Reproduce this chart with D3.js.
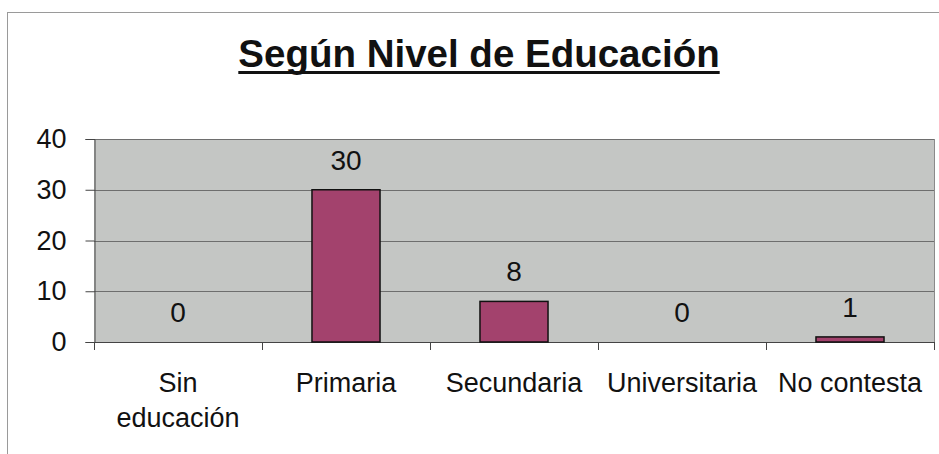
<!DOCTYPE html>
<html>
<head>
<meta charset="utf-8">
<script src="https://cdn.jsdelivr.net/npm/d3@7"></script>
<style>
  body { margin: 0; background: #fff; }
  svg { display: block; font-family: Arial, "Liberation Sans", sans-serif; }
</style>
</head>
<body>
<div id="chart"></div>
<script>
const width = 939
const height = 454

// data
const title = 'Según Nivel de Educación'
const categories = ['Sin educación', 'Primaria', 'Secundaria', 'Universitaria', 'No contesta']
const values = [0, 30, 8, 0, 1]
const yTicks = [0, 10, 20, 30, 40]

const plot = { left: 94, right: 934, top: 139, bottom: 342 }

const svg = d3.select('#chart').append('svg')
  .attr('width', width)
  .attr('height', height)

// outer frame
svg.append('rect')
  .attr('x', 7.5).attr('y', 12.5)
  .attr('width', width).attr('height', height)
  .attr('fill', 'none')
  .attr('stroke', '#9a9a9a')
  .attr('stroke-width', 1)

// title
const t = svg.append('text')
  .attr('x', 479).attr('y', 67)
  .attr('text-anchor', 'middle')
  .attr('font-size', 38.5)
  .attr('font-weight', 'bold')
  .attr('fill', '#111')
  .text(title)
const tw = t.node().getComputedTextLength()
svg.append('rect')
  .attr('x', 479 - tw / 2).attr('y', 71)
  .attr('width', tw).attr('height', 3)
  .attr('fill', '#111')

// scales
const x = d3.scaleBand().domain(categories).range([plot.left, plot.right]).padding(0)
const y = d3.scaleLinear().domain([0, 40]).range([plot.bottom, plot.top])

// plot background
svg.append('rect')
  .attr('x', plot.left).attr('y', plot.top)
  .attr('width', plot.right - plot.left).attr('height', plot.bottom - plot.top)
  .attr('fill', '#c4c6c4')

// gridlines
svg.append('g').selectAll('line').data(yTicks.filter(d => d > 0)).join('line')
  .attr('x1', plot.left).attr('x2', plot.right)
  .attr('y1', d => Math.round(y(d)) + 0.5).attr('y2', d => Math.round(y(d)) + 0.5)
  .attr('stroke', '#6e6e6e')
  .attr('stroke-width', 1)

// right border
svg.append('line')
  .attr('x1', plot.right + 0.5).attr('x2', plot.right + 0.5)
  .attr('y1', plot.top).attr('y2', plot.bottom)
  .attr('stroke', '#8a8a8a')

// y axis
const yAxis = svg.append('g')
  .attr('transform', `translate(${plot.left + 0.5},0)`)
  .call(d3.axisLeft(y).tickValues(yTicks).tickSize(9).tickPadding(19).tickFormat(d3.format('d')))
yAxis.select('.domain').attr('stroke', '#444')
yAxis.selectAll('.tick line').attr('stroke', '#444')
yAxis.selectAll('.tick text')
  .attr('font-size', 27)
  .attr('font-family', 'Arial, "Liberation Sans", sans-serif')
  .attr('fill', '#111')

// x axis line and tick marks at category boundaries
const bounds = categories.map(c => x(c)).concat([plot.right])
svg.append('line')
  .attr('x1', plot.left).attr('x2', plot.right)
  .attr('y1', plot.bottom + 0.5).attr('y2', plot.bottom + 0.5)
  .attr('stroke', '#444')
svg.append('g').selectAll('line').data(bounds).join('line')
  .attr('x1', d => Math.round(d) + 0.5).attr('x2', d => Math.round(d) + 0.5)
  .attr('y1', plot.bottom).attr('y2', plot.bottom + 8)
  .attr('stroke', '#444')

// bars
const barW = x.bandwidth() * 0.405
svg.append('g').selectAll('rect').data(values).join('rect')
  .attr('x', (d, i) => x(categories[i]) + x.bandwidth() / 2 - barW / 2)
  .attr('y', d => y(d))
  .attr('width', barW)
  .attr('height', d => y(0) - y(d))
  .attr('fill', '#a3426d')
  .attr('stroke', '#111')
  .attr('stroke-width', d => d > 0 ? 1.5 : 0)

// value labels
svg.append('g').selectAll('text').data(values).join('text')
  .attr('x', (d, i) => x(categories[i]) + x.bandwidth() / 2)
  .attr('y', d => y(d) - 20)
  .attr('text-anchor', 'middle')
  .attr('font-size', 28)
  .attr('fill', '#111')
  .text(d => d)

// category labels (wrap when wider than band)
const lbl = svg.append('g').selectAll('text').data(categories).join('text')
  .attr('x', d => x(d) + x.bandwidth() / 2)
  .attr('y', 392)
  .attr('text-anchor', 'middle')
  .attr('font-size', 27)
  .attr('fill', '#111')
  .text(d => d)
lbl.each(function (d) {
  const el = d3.select(this)
  if (this.getComputedTextLength() > x.bandwidth() - 6) {
    const words = d.split(' ')
    el.text(null)
    words.forEach((w, i) => {
      el.append('tspan')
        .attr('x', x(d) + x.bandwidth() / 2)
        .attr('dy', i === 0 ? 0 : 35)
        .text(w)
    })
  }
})
</script>
</body>
</html>
